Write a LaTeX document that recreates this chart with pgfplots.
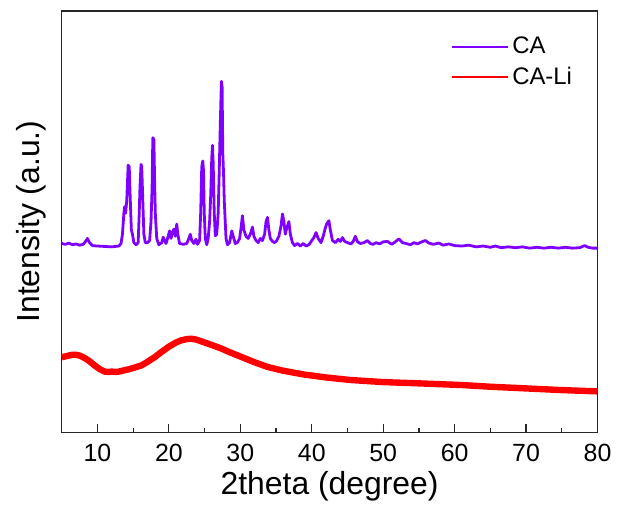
\documentclass[border=0pt]{standalone}
\usepackage{fontspec}
\setmainfont{Liberation Sans}
\usepackage{pgfplots}
\pgfplotsset{compat=1.18}
\definecolor{capurple}{RGB}{128,0,255}
\definecolor{clired}{RGB}{255,0,0}
\begin{document}
\begin{tikzpicture}
\begin{axis}[
  scale only axis, width=269pt, height=211.5pt,
  xmin=5, xmax=80, ymin=0, ymax=100,
  clip=false,
  axis line style={line width=0.65pt, black!85},
  xtick={10,20,...,80}, minor xtick={5,15,...,75},
  ytick=\empty,
  tick align=inside, xtick pos=bottom,
  major tick length=4pt, minor tick length=2pt,
  tick style={line width=0.6pt, black!85},
  /pgf/number format/assume math mode=true,
  xticklabel style={font=\fontsize{12.5}{15}\selectfont, anchor=base, yshift=-14.5pt},
  xlabel={2theta (degree)},
  ylabel={Intensity (a.u.)},
  xlabel style={font=\fontsize{16}{19}\selectfont, at={(rel axis cs:0.5,0)}, anchor=base, yshift=-31.5pt},
  ylabel style={font=\fontsize{16}{19}\selectfont, at={(rel axis cs:0,0.5)}, anchor=base, yshift=11pt},
  legend style={at={(rel axis cs:0.726,0.948)}, anchor=north west, draw=none, fill=none,
    font=\fontsize{12}{14}\selectfont, row sep=1pt, inner sep=0pt},
  legend cell align=left,
]
\path (rel axis cs:-0.1152,-0.1726) rectangle (rel axis cs:1.0335,1.026);
\addplot[color=capurple, line width=1.4pt, line join=round,
  legend image code/.code={\draw[color=capurple, line width=0.7pt] (0pt,0pt) -- (28pt,0pt);}] coordinates {
(5,44.8) (5.5,44.6) (6,44.9) (6.5,44.5) (7,44.7) (7.5,44.4) (8,44.6) (8.3,45.2) (8.6,46.0) (8.9,45.0) (9.3,44.3) (10,44.2) (11,44.1) (12,44.0) (13,44.2) (13.3,44.8) (13.5,47) (13.7,52) (13.8,53.5) (13.95,52) (14.1,55) (14.3,63.4) (14.45,63) (14.6,55) (14.75,48) (14.9,47) (15.1,45) (15.4,44.5) (15.7,45) (15.85,52) (15.95,58) (16.1,63.6) (16.2,63) (16.35,55) (16.5,47) (16.7,45) (17.0,45) (17.3,45.5) (17.5,50) (17.65,58) (17.75,69.9) (17.9,69.5) (18.0,60) (18.1,52) (18.3,46) (18.6,44.5) (19.0,45) (19.2,46.3) (19.4,45.5) (19.6,44.8) (19.9,46.5) (20.1,47.8) (20.3,46) (20.5,47.5) (20.7,48.2) (20.9,46.5) (21.1,49.4) (21.25,47) (21.5,44.8) (22,44.6) (22.5,44.8) (22.8,46) (23.0,47) (23.2,45.5) (23.5,44.8) (23.8,45.8) (24.0,44.6) (24.3,45.5) (24.45,52) (24.6,63) (24.75,64.4) (24.85,62) (24.95,52) (25.1,46) (25.3,44.5) (25.5,46) (25.7,50) (25.85,56) (26.0,65) (26.1,68.1) (26.2,64) (26.35,52) (26.5,46.6) (26.7,47) (26.9,52) (27.05,62) (27.2,73.4) (27.35,83.3) (27.45,82) (27.55,66) (27.65,61.7) (27.75,55) (27.85,51.4) (28.0,46) (28.2,44.5) (28.5,45) (28.8,47.8) (29.0,46.5) (29.3,44.8) (29.6,45) (29.9,46) (30.1,48.5) (30.3,51.4) (30.5,48) (30.8,46.5) (31.1,46) (31.4,47) (31.7,48.7) (31.9,46.5) (32.2,45.5) (32.5,45) (32.8,46) (33.1,45.5) (33.4,47) (33.6,50) (33.8,51) (34.0,48) (34.2,46) (34.5,45.3) (34.8,45) (35.1,45.5) (35.4,46.5) (35.7,49) (35.9,51.8) (36.1,50) (36.3,47) (36.5,48.5) (36.8,50) (37.0,47) (37.3,45) (37.6,44.3) (38.0,44.8) (38.4,44.2) (38.8,44.8) (39.2,44.2) (39.6,44.5) (40.0,45.5) (40.3,46.2) (40.6,47.4) (40.9,46) (41.3,45) (41.6,46.5) (41.9,48.5) (42.1,49.5) (42.4,50.2) (42.6,48) (42.9,45.5) (43.3,45) (43.7,45.8) (44.0,45.3) (44.3,46.2) (44.6,45.3) (45.0,45) (45.5,44.7) (45.8,45.3) (46.1,46.5) (46.4,45.2) (46.8,44.8) (47.3,45.0) (47.8,45.5) (48.2,44.8) (48.6,44.6) (49.0,45.0) (49.5,44.7) (50.0,45.2) (50.6,45.3) (51.2,44.6) (51.7,45.2) (52.2,45.9) (52.7,45.0) (53.2,44.8) (53.8,44.5) (54.3,45.0) (54.8,44.7) (55.4,45.2) (55.9,45.5) (56.4,44.9) (57.0,44.6) (57.8,44.9) (58.4,44.4) (59.2,44.7) (60,44.3) (61,44.2) (62,44.4) (63,44.0) (64,44.2) (65,43.9) (65.7,44.2) (66.5,43.8) (67.5,44.0) (68.5,43.8) (69.5,44.0) (70.5,43.7) (71.5,43.9) (72.5,43.7) (73.5,43.9) (74.5,43.7) (75.5,43.9) (76.5,43.7) (77.5,43.8) (78.2,44.3) (78.7,43.9) (79.3,43.7) (80,43.7)
};
\addlegendentry{CA}
\addplot[color=clired, line width=3.2pt, line join=round,
  legend image code/.code={\draw[color=clired, line width=0.7pt] (0pt,0pt) -- (28pt,0pt);}] coordinates {
(5,17.8) (5.5,18.0) (6,18.2) (6.5,18.4) (7,18.4) (7.5,18.2) (8,17.8) (8.7,17.1) (9.5,16.0) (10.3,15.0) (11.0,14.4) (11.5,14.3) (12.0,14.4) (12.5,14.3) (13.0,14.4) (13.5,14.6) (14.5,15.0) (15.5,15.5) (16.2,15.9) (17,16.7) (18,17.8) (19,19.1) (20,20.3) (21,21.3) (21.7,21.8) (22.5,22.1) (23.1,22.2) (23.8,22.0) (24.5,21.6) (25.5,21.0) (26.5,20.4) (27.3,19.9) (28.5,19.0) (30.1,17.9) (32,16.6) (33.8,15.5) (36,14.6) (38.9,13.7) (42,13.0) (45.4,12.4) (50,11.9) (55,11.6) (61,11.2) (65,10.8) (70,10.4) (75,10.0) (80,9.7)
};
\addlegendentry{CA-Li}
\end{axis}
\end{tikzpicture}
\end{document}
